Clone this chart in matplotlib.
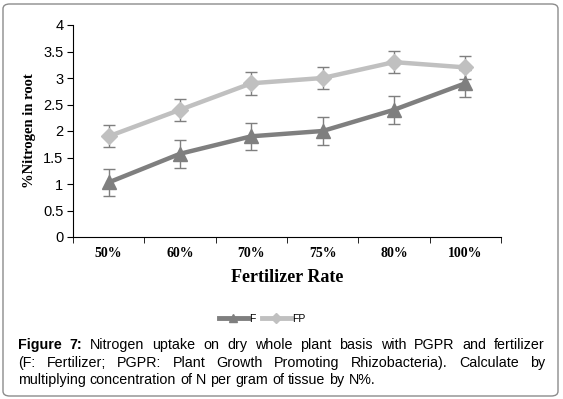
import numpy as np
import matplotlib
matplotlib.use("Agg")
import matplotlib.pyplot as plt
from matplotlib.patches import FancyBboxPatch
from matplotlib.lines import Line2D

rates = ["50%", "60%", "70%", "75%", "80%", "100%"]
f_vals = [1.03, 1.57, 1.9, 2.0, 2.4, 2.9]
f_err = [0.26, 0.26, 0.26, 0.26, 0.26, 0.26]
fp_vals = [1.9, 2.4, 2.9, 3.0, 3.3, 3.2]
fp_err = [0.21, 0.21, 0.22, 0.21, 0.21, 0.21]

caption_lines = [
    ("Figure 7:", " Nitrogen uptake on dry whole plant basis with PGPR and fertilizer"),
    ("", "(F: Fertilizer; PGPR: Plant Growth Promoting Rhizobacteria).  Calculate by"),
    ("", "multiplying concentration of N per gram of tissue by N%."),
]

dark = "#7f7f7f"
light = "#c0c0c0"

fig = plt.figure(figsize=(5.63, 3.99), dpi=100)
W, H = 563, 399

# rounded frame around the whole figure
frame = FancyBboxPatch((3 / W, 3 / H), 555 / W, 392 / H,
                       boxstyle="round,pad=0,rounding_size=0.012",
                       transform=fig.transFigure, fill=False,
                       edgecolor="#8c8c8c", linewidth=1.0)
fig.patches.append(frame)

ax = fig.add_axes([73 / W, 1 - 237 / H, (501 - 73) / W, (237 - 25) / H])
x = np.arange(len(rates))

ax.errorbar(x, f_vals, yerr=f_err, color=dark, lw=3.2, marker="^", ms=10,
            ecolor=dark, elinewidth=1, capsize=4, capthick=1, zorder=3)
ax.errorbar(x, fp_vals, yerr=fp_err, color=light, lw=3.2, marker="D", ms=8,
            ecolor=dark, elinewidth=1, capsize=4, capthick=1, zorder=3)

ax.set_xlim(-0.5, len(rates) - 0.5)
ax.set_ylim(0, 4)
ax.set_yticks(np.arange(0, 4.01, 0.5))
ax.set_yticklabels(["0", "0.5", "1", "1.5", "2", "2.5", "3", "3.5", "4"],
                   fontfamily="Liberation Sans", fontsize=10.5)
ax.set_xticks(x)
ax.set_xticklabels(rates, fontfamily="Liberation Serif", fontweight="bold", fontsize=10)
ax.tick_params(axis="x", which="major", length=0, pad=7)
ax.set_xticks(np.arange(-0.5, len(rates)), minor=True)
ax.tick_params(axis="x", which="minor", length=4, direction="out", color="black")
ax.tick_params(axis="y", length=4, direction="out", color="black", pad=3)

for side in ["top", "right"]:
    ax.spines[side].set_visible(False)
for side in ["left", "bottom"]:
    ax.spines[side].set_color("black")
    ax.spines[side].set_linewidth(0.8)

ax.set_xlabel("Fertilizer Rate", fontfamily="Liberation Serif", fontweight="bold",
              fontsize=13, labelpad=7)
ax.set_ylabel("%Nitrogen in root", fontfamily="Liberation Serif", fontweight="bold",
              fontsize=10.5, labelpad=5)

handles = [Line2D([], [], color=dark, lw=3.5, marker="^", ms=6),
           Line2D([], [], color=light, lw=3.5, marker="D", ms=5)]
fig.legend(handles, ["F", "FP"], loc="center", bbox_to_anchor=(262 / W, 1 - 319 / H),
           ncol=2, frameon=False, handlelength=2.8, columnspacing=0.6,
           handletextpad=0.1, prop={"family": "Liberation Sans", "size": 7.5})

# caption, justified by spreading words over the line width
left, right = 18, 545
ys = [345, 363, 380]
fs = 10.3
renderer = fig.canvas.get_renderer()
for (bold, rest), ypx in zip(caption_lines, ys):
    words = []
    if bold:
        words.append(("Figure", "bold"))
        words.append(("7:", "bold"))
    for w in rest.split():
        words.append((w, "normal"))
    texts = [fig.text(0, 1 - ypx / H, w, fontsize=fs, fontweight=wt,
                      fontfamily="Liberation Sans", va="center", ha="left")
             for w, wt in words]
    widths = [t.get_window_extent(renderer).width for t in texts]
    if ypx != ys[-1]:
        gap = (right - left - sum(widths)) / (len(texts) - 1)
    else:
        gap = fs * 100 / 72 * 0.278
    pos = left
    for t, w in zip(texts, widths):
        t.set_x(pos / W)
        pos += w + gap

fig.savefig("out.png", dpi=100)
